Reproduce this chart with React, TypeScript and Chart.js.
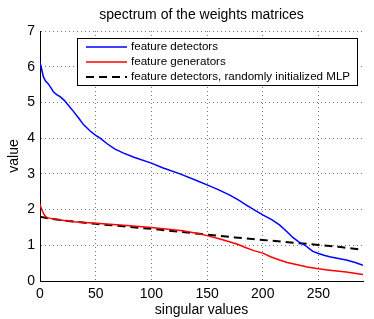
import React, { useEffect, useRef } from "react";
import { Chart, registerables } from "chart.js";

Chart.register(...registerables);

const detectorsX = [0, 1, 3, 5, 7.5, 10, 12, 15, 18, 22, 26, 30, 35, 39, 45, 50, 54, 60, 67, 75, 85, 100, 110, 125.7, 140, 150, 160, 170, 178, 185, 192, 200, 208, 215, 222, 227, 232, 238, 242, 245, 250, 255, 260, 268, 275, 283, 290];
const detectorsY = [6.12, 6.0, 5.72, 5.6, 5.52, 5.4, 5.3, 5.22, 5.16, 5.05, 4.9, 4.75, 4.55, 4.38, 4.2, 4.08, 4.0, 3.85, 3.7, 3.58, 3.46, 3.3, 3.17, 3.0, 2.82, 2.69, 2.56, 2.41, 2.27, 2.13, 2.0, 1.85, 1.72, 1.57, 1.37, 1.22, 1.1, 1.0, 0.9, 0.83, 0.77, 0.72, 0.68, 0.63, 0.59, 0.52, 0.44];

const generatorsX = [0, 1, 3, 5, 8, 15, 30, 50, 75, 100, 115, 128, 143, 150, 160, 170, 178, 185, 192, 200, 207, 215, 222, 230, 240, 250, 260, 275, 290];
const generatorsY = [2.15, 2.05, 1.9, 1.8, 1.76, 1.72, 1.66, 1.62, 1.56, 1.5, 1.45, 1.41, 1.32, 1.27, 1.19, 1.1, 1.02, 0.93, 0.85, 0.78, 0.68, 0.59, 0.52, 0.46, 0.39, 0.34, 0.3, 0.25, 0.18];

const randomX = [0, 10, 25, 50, 75, 100, 125, 143, 150, 175, 200, 225, 250, 270, 290];
const randomY = [1.8, 1.74, 1.68, 1.6, 1.53, 1.46, 1.38, 1.32, 1.3, 1.22, 1.15, 1.08, 1.01, 0.95, 0.87];

const xTicks = [0, 50, 100, 150, 200, 250];
const yTicks = [0, 1, 2, 3, 4, 5, 6, 7];

const seriesLabels = [
  "feature detectors",
  "feature generators",
  "feature detectors, randomly initialized MLP",
];

const FONT = "'Liberation Sans', Arial, Helvetica, sans-serif";

const zip = (xs: number[], ys: number[]) => xs.map((x, i) => ({ x, y: ys[i] }));

const legendPlugin = {
  id: "boxLegend",
  afterDraw(chart: any) {
    const ctx = chart.ctx as CanvasRenderingContext2D;
    const x0 = 77.5, y0 = 38.5, w = 280, h = 47;
    ctx.save();
    ctx.fillStyle = "#fff";
    ctx.fillRect(x0, y0, w, h);
    ctx.strokeStyle = "#000";
    ctx.lineWidth = 1;
    ctx.strokeRect(x0, y0, w, h);
    ctx.font = `11.6px ${FONT}`;
    ctx.textBaseline = "middle";
    ctx.textAlign = "left";
    chart.data.datasets.forEach((ds: any, i: number) => {
      const y = 47 + i * 15;
      ctx.beginPath();
      ctx.strokeStyle = ds.borderColor;
      ctx.lineWidth = ds.borderWidth;
      ctx.setLineDash(ds.borderDash || []);
      ctx.moveTo(86, y);
      ctx.lineTo(127, y);
      ctx.stroke();
      ctx.setLineDash([]);
      ctx.fillStyle = "#000";
      ctx.fillText(ds.label, 131, y);
    });
    ctx.restore();
  },
};

export default function App() {
  const ref = useRef<HTMLCanvasElement>(null);
  useEffect(() => {
    document.body.style.margin = "0";
    const chart = new Chart(ref.current!, {
      type: "line",
      data: {
        datasets: [
          {
            label: seriesLabels[0],
            data: zip(detectorsX, detectorsY),
            borderColor: "#0000ff",
            borderWidth: 1.5,
            pointRadius: 0,
            tension: 0,
          },
          {
            label: seriesLabels[1],
            data: zip(generatorsX, generatorsY),
            borderColor: "#ff0000",
            borderWidth: 1.5,
            pointRadius: 0,
            tension: 0,
          },
          {
            label: seriesLabels[2],
            data: zip(randomX, randomY),
            borderColor: "#000000",
            borderWidth: 2,
            borderDash: [8, 5],
            pointRadius: 0,
            tension: 0,
          },
        ],
      },
      options: {
        responsive: false,
        animation: false,
        layout: { padding: { left: 0, right: 11, top: 0, bottom: 0 } },
        plugins: {
          legend: { display: false },
          tooltip: { enabled: false },
          title: {
            display: true,
            fullSize: false,
            text: "spectrum of the weights matrices",
            color: "#000",
            font: { family: FONT, size: 14, weight: "normal" },
            padding: { top: 6.6, bottom: 7.6 },
          },
        },
        scales: {
          x: {
            type: "linear",
            min: 0,
            max: 290,
            afterBuildTicks: (scale: any) => {
              scale.ticks = xTicks.map((v) => ({ value: v }));
            },
            afterFit: (scale: any) => {
              scale.height = 38;
            },
            ticks: {
              color: "#000",
              font: { family: FONT, size: 14 },
              padding: 5,
              maxRotation: 0,
            },
            grid: { color: "#777", drawTicks: false, lineWidth: 1 },
            border: { display: true, color: "#000", width: 1, dash: [1, 3] },
            title: {
              display: true,
              text: "singular values",
              color: "#000",
              font: { family: FONT, size: 14 },
              padding: { top: 0, bottom: 0 },
            },
          },
          y: {
            type: "linear",
            min: 0,
            max: 7,
            afterBuildTicks: (scale: any) => {
              scale.ticks = yTicks.map((v) => ({ value: v }));
            },
            afterFit: (scale: any) => {
              scale.width = 40;
            },
            ticks: {
              color: "#000",
              font: { family: FONT, size: 14 },
              padding: 5,
            },
            grid: { color: "#777", drawTicks: false, lineWidth: 1 },
            border: { display: true, color: "#000", width: 1, dash: [1, 3] },
            title: {
              display: true,
              text: "value",
              color: "#000",
              font: { family: FONT, size: 14 },
              padding: { top: 5.6, bottom: 0 },
            },
          },
        },
      },
      plugins: [legendPlugin],
    } as any);
    return () => chart.destroy();
  }, []);
  return (
    <div style={{ width: 374, height: 319 }}>
      <canvas ref={ref} width={374} height={319} />
    </div>
  );
}
